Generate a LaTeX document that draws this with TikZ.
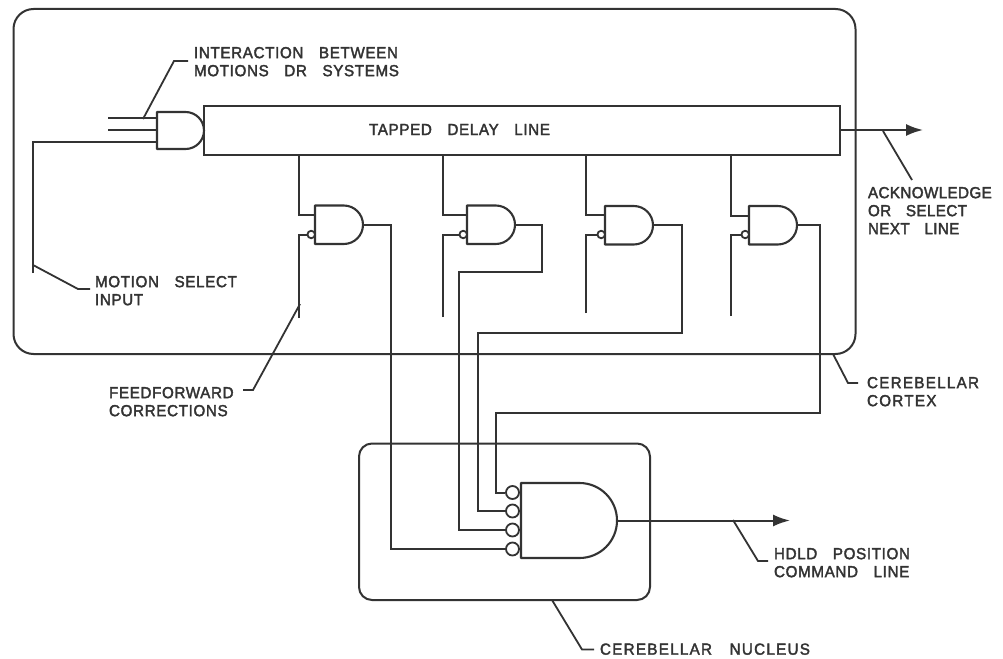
\documentclass[tikz,border=0pt]{standalone}
\usepackage{fontspec}
\setmainfont{Liberation Sans}[FakeBold=2.2,FakeStretch=0.95,LetterSpace=4,WordSpace=3.2]
\usetikzlibrary{arrows.meta}
\definecolor{ink}{HTML}{333333}
\tikzset{
  x=1pt,y=-1pt,
  wire/.style={draw=ink,line width=2pt,line join=miter},
  leader/.style={draw=ink,line width=1.8pt},
  gateline/.style={draw=ink,line width=2.1pt,line join=round,fill=white},
  bubble/.style={circle,draw=ink,line width=1.8pt,fill=white,inner sep=0pt},
  lab/.style={inner sep=0pt,outer sep=0pt,align=left,anchor=north west,text=ink,font=\fontsize{16}{18}\selectfont},
  arrowline/.style={wire,-{Latex[length=17pt,width=12pt]}},
  box/.style={draw=ink,line width=2pt,inner sep=0pt,outer sep=0pt,anchor=north west},
}
% \andgate{name}{left x}{top y}{width}{height}
\newcommand{\andgate}[5]{%
  \pgfmathsetmacro{\gr}{#5/2}%
  \pgfmathsetmacro{\gs}{#2+#4-\gr}%
  \path[gateline] (#2,#3) -- (\gs,#3) arc[start angle=90,end angle=-90,radius=\gr pt] -- (#2,#3+#5) -- cycle;
  \coordinate (#1-out) at (#2+#4,#3+\gr);
  \coordinate (#1-in) at (#2,#3);
}
\begin{document}
\begin{tikzpicture}
\useasboundingbox (0,0) rectangle (1003,658);
\fill[white] (0,0) rectangle (1003,658);

% enclosures
\node[box,rounded corners=20pt,minimum width=842pt,minimum height=345pt] (cortex) at (13.5,9) {};
\node[box,rounded corners=13pt,minimum width=291pt,minimum height=156.5pt] (nucleus) at (359,443.5) {};

% delay line
\node[box,minimum width=636pt,minimum height=48.5pt] (delay) at (204,106) {};
\node[lab] (delaytext) at (369,124) {TAPPED DELAY LINE};

% free ends
\coordinate (a1) at (108,118);
\coordinate (a2) at (108,130);
\coordinate (msel) at (33,273);
\coordinate (e1) at (299,318);
\coordinate (e2) at (443,317);
\coordinate (e3) at (586,313);
\coordinate (e4) at (731,316);

% tap columns
\coordinate (t1) at (299,154);
\coordinate (t2) at (443,154);
\coordinate (t3) at (586,154);
\coordinate (t4) at (731,154);

% input gate
\draw[wire] (a1) -- (157,118);
\draw[wire] (a2) -- (157,130);
\draw[wire] (msel) |- (157,142);
\andgate{g0}{157}{112}{47}{37}

% tapped gates
\andgate{g1}{315}{205.5}{48}{38.5}
\andgate{g2}{467}{205.5}{48}{38.5}
\andgate{g3}{605}{206}{48}{38.5}
\andgate{g4}{749}{206}{48}{38.5}

\draw[wire] (delay.south -| t1) |- (g1-in |- 0,215);
\draw[wire] (delay.south -| t2) |- (g2-in |- 0,215);
\draw[wire] (delay.south -| t3) |- (g3-in |- 0,215);
\draw[wire] (delay.south -| t4) |- (g4-in |- 0,215.5);

\draw[wire] (e1) |- (308,234.5);
\draw[wire] (e2) |- (460,234.5);
\draw[wire] (e3) |- (598,234.5);
\draw[wire] (e4) |- (742,234.5);

\node[bubble,minimum size=7.5pt] (b1) at (311.2,234.5) {};
\node[bubble,minimum size=7.5pt] (b2) at (463.2,234.5) {};
\node[bubble,minimum size=7.5pt] (b3) at (601.2,234.5) {};
\node[bubble,minimum size=7.5pt] (b4) at (745.2,234.5) {};

% nucleus gate
\andgate{g5}{521}{483}{96}{75}
\node[bubble,minimum size=13pt] (n4) at (512.5,492.5) {};
\node[bubble,minimum size=13pt] (n3) at (512.5,511) {};
\node[bubble,minimum size=13pt] (n2) at (512.5,530) {};
\node[bubble,minimum size=13pt] (n1) at (512.5,549) {};

% gate outputs to nucleus
\draw[wire] (g1-out) -| (390.5,549) -- (n1.west);
\draw[wire] (g2-out) -| (542,272) -| (458.5,530) -- (n2.west);
\draw[wire] (g3-out) -| (681.5,333) -| (478,511) -- (n3.west);
\draw[wire] (g4-out) -| (820,413) -| (496,492.5) -- (n4.west);

% outputs
\coordinate (ackEnd) at (923,130);
\coordinate (holdEnd) at (790,0);
\draw[arrowline] (840,130) -- (ackEnd);
\draw[arrowline] (g5-out) -- (g5-out -| holdEnd);

% labels
\node[lab] (l1) at (194,47) {INTERACTION BETWEEN\\MOTIONS DR SYSTEMS};
\node[lab,font=\fontsize{16}{18}\selectfont\addfontfeatures{LetterSpace=2.4}] (l2) at (868,187) {ACKNOWLEDGE\\OR SELECT\\NEXT LINE};
\node[lab] (l3) at (95,276) {MOTION SELECT\\INPUT};
\node[lab] (l4) at (109,387) {FEEDFORWARD\\CORRECTIONS};
\node[lab,font=\fontsize{16}{18}\selectfont\addfontfeatures{LetterSpace=8}] (l5) at (867,377) {CEREBELLAR\\CORTEX};
\node[lab] (l6) at (774,548) {HDLD POSITION\\COMMAND LINE};
\node[lab,font=\fontsize{16}{18}\selectfont\addfontfeatures{LetterSpace=8}] (l7) at (600,643.5) {CEREBELLAR NUCLEUS};

% leaders
\draw[leader] (143,119) -- (174,61) -- (188,61);
\draw[leader] (883,131) -- (912,180);
\draw[leader] (33,265) -- (78,289) -- (90,289);
\draw[leader] (300,304) -- (253,390) -- (243,390);
\draw[leader] (833,354) -- (848,383) -- (858,383);
\draw[leader] (733,520) -- (758,561) -- (768,561);
\draw[leader] (552,600) -- (582,649.5) -- (594,649.5);
\end{tikzpicture}
\end{document}
